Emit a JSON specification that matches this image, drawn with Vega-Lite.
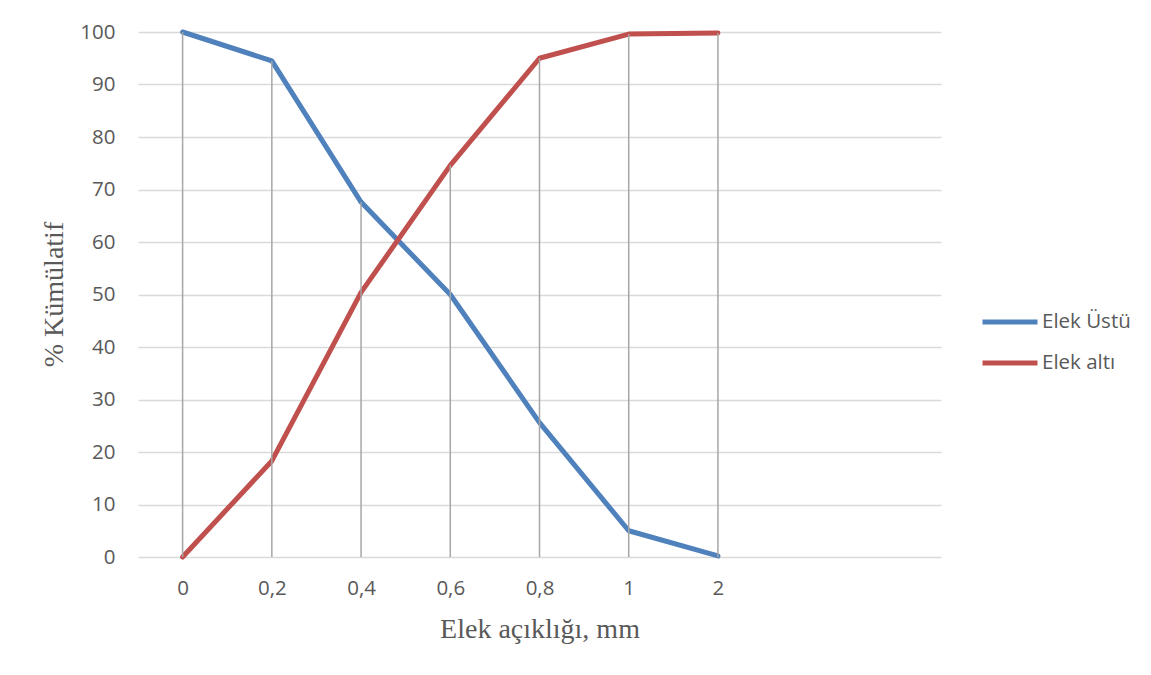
{
  "$schema": "https://vega.github.io/schema/vega-lite/v6.json",
  "width": 803,
  "height": 525,
  "autosize": {"type": "none"},
  "padding": {"left": 138, "top": 32, "right": 210, "bottom": 118},
  "background": "white",
  "data": {
    "values": [
      {"elek": "0", "seri": "Elek Üstü", "deger": 100},
      {"elek": "0,2", "seri": "Elek Üstü", "deger": 94.5},
      {"elek": "0,4", "seri": "Elek Üstü", "deger": 67.6},
      {"elek": "0,6", "seri": "Elek Üstü", "deger": 50},
      {"elek": "0,8", "seri": "Elek Üstü", "deger": 25.6},
      {"elek": "1", "seri": "Elek Üstü", "deger": 5},
      {"elek": "2", "seri": "Elek Üstü", "deger": 0.2},
      {"elek": "0", "seri": "Elek altı", "deger": 0},
      {"elek": "0,2", "seri": "Elek altı", "deger": 18.3},
      {"elek": "0,4", "seri": "Elek altı", "deger": 50.4},
      {"elek": "0,6", "seri": "Elek altı", "deger": 74.6},
      {"elek": "0,8", "seri": "Elek altı", "deger": 95},
      {"elek": "1", "seri": "Elek altı", "deger": 99.6},
      {"elek": "2", "seri": "Elek altı", "deger": 99.8}
    ]
  },
  "encoding": {
    "x": {
      "field": "elek",
      "type": "ordinal",
      "sort": null,
      "scale": {"type": "point", "domain": ["0", "0,2", "0,4", "0,6", "0,8", "1", "2", " ", "  "], "padding": 0.5},
      "axis": {
        "title": "Elek açıklığı, mm",
        "titleFont": "Liberation Serif",
        "titleFontSize": 28,
        "titleFontWeight": "normal",
        "titleColor": "#595959",
        "titleY": 80,
        "titleBaseline": "alphabetic",
        "labelAngle": 0,
        "labelFont": "Open Sans",
        "labelFontSize": 20.5,
        "labelColor": "#595959",
        "labelPadding": 21,
        "ticks": false,
        "domain": false,
        "grid": false
      }
    }
  },
  "layer": [
    {
      "mark": {"type": "line", "strokeWidth": 5, "strokeCap": "round", "strokeJoin": "round"},
      "encoding": {
        "y": {
          "field": "deger",
          "type": "quantitative",
          "scale": {"domain": [0, 100], "nice": false},
          "axis": {
            "title": "% Kümülatif",
            "titleFont": "Liberation Serif",
            "titleFontSize": 28,
            "titleFontWeight": "normal",
            "titleColor": "#595959",
            "titleX": -70,
            "titleY": 262,
            "titleAlign": "center",
            "titleBaseline": "bottom",
            "values": [0, 10, 20, 30, 40, 50, 60, 70, 80, 90, 100],
            "labelFont": "Open Sans",
            "labelFontSize": 20.5,
            "labelColor": "#595959",
            "labelPadding": 23,
            "ticks": false,
            "domain": false,
            "grid": true,
            "gridColor": "#d9d9d9",
            "gridWidth": 1.3
          }
        },
        "color": {
          "field": "seri",
          "type": "nominal",
          "sort": ["Elek Üstü", "Elek altı"],
          "scale": {"domain": ["Elek Üstü", "Elek altı"], "range": ["#4F81BD", "#C0504D"]},
          "legend": {
            "title": null,
            "orient": "none",
            "legendX": 842,
            "legendY": 260,
            "symbolType": "stroke",
            "symbolSize": 3025,
            "symbolStrokeWidth": 5,
            "labelFont": "Open Sans",
            "labelFontSize": 20.5,
            "labelColor": "#595959",
            "labelOffset": 2,
            "rowPadding": -10
          }
        }
      }
    },
    {
      "mark": {"type": "rule", "color": "#a6a6a6", "strokeWidth": 1.5},
      "encoding": {
        "y": {"aggregate": "max", "field": "deger", "type": "quantitative"},
        "y2": {"datum": 0}
      }
    }
  ],
  "config": {"view": {"stroke": null}}
}
